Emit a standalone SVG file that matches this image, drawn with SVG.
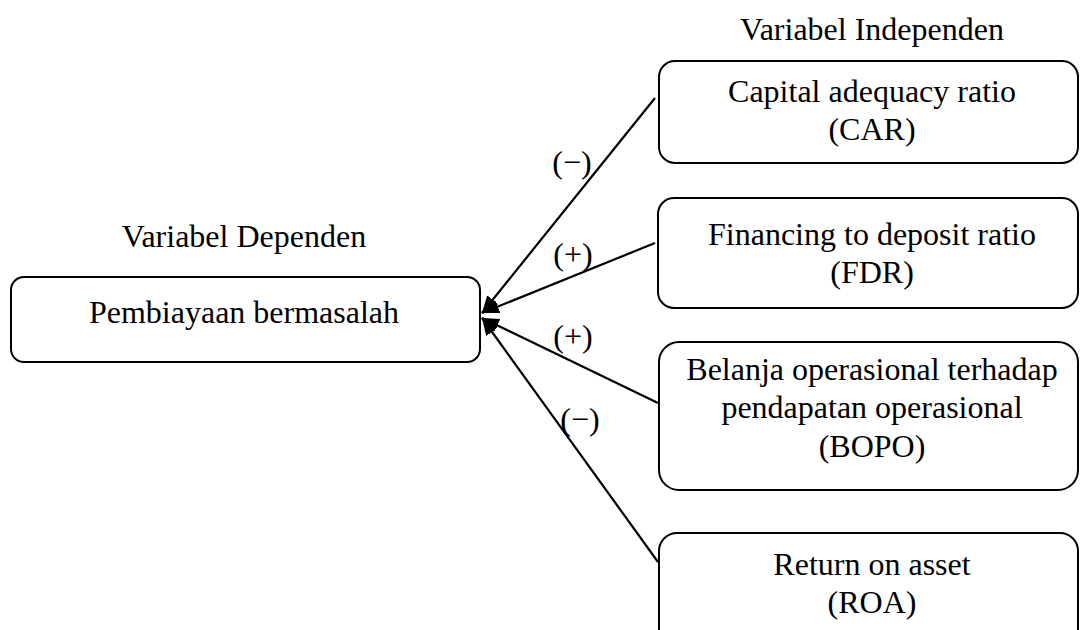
<svg xmlns="http://www.w3.org/2000/svg" width="1080" height="630" viewBox="0 0 1080 630">
  <defs>
    <style>
      .box { fill: #ffffff; stroke: #000000; stroke-width: 2; }
      .t { font-family: "Liberation Serif", "Times New Roman", serif; font-size: 32px; fill: #000000; text-anchor: middle; }
      .edge { stroke: #000000; stroke-width: 2.2; fill: none; marker-end: url(#arrow); }
    </style>
    <marker id="arrow" markerUnits="userSpaceOnUse" markerWidth="18" markerHeight="14" refX="17" refY="7" orient="auto">
      <path d="M0,0 L17,7 L0,14 Z" fill="#000000"/>
    </marker>
  </defs>
  <rect width="1080" height="630" fill="#ffffff"/>

  <text class="t" x="244" y="247">Variabel Dependen</text>
  <text class="t" x="872" y="40">Variabel Independen</text>

  <g id="connectors">
    <line class="edge" x1="655" y1="98" x2="482" y2="313"/>
    <line class="edge" x1="655" y1="243" x2="482" y2="313"/>
    <line class="edge" x1="658" y1="403" x2="482" y2="318"/>
    <line class="edge" x1="658" y1="562" x2="482" y2="318"/>
    <text class="t" x="572" y="173">(−)</text>
    <text class="t" x="573" y="265">(+)</text>
    <text class="t" x="573" y="347">(+)</text>
    <text class="t" x="580" y="430">(−)</text>
  </g>

  <g id="pembiayaan">
    <rect class="box" x="11" y="277" width="469" height="85" rx="13" ry="13"/>
    <text class="t" x="244" y="323">Pembiayaan bermasalah</text>
  </g>

  <g id="car">
    <rect class="box" x="659" y="61" width="419" height="102" rx="16" ry="16"/>
    <text class="t" x="872" y="102">Capital adequacy ratio</text>
    <text class="t" x="872" y="140">(CAR)</text>
  </g>

  <g id="fdr">
    <rect class="box" x="658" y="198" width="420" height="110" rx="16" ry="16"/>
    <text class="t" x="872" y="245">Financing to deposit ratio</text>
    <text class="t" x="872" y="283">(FDR)</text>
  </g>

  <g id="bopo">
    <rect class="box" x="659" y="342" width="419" height="148" rx="20" ry="20"/>
    <text class="t" x="872" y="380">Belanja operasional terhadap</text>
    <text class="t" x="872" y="418">pendapatan operasional</text>
    <text class="t" x="872" y="457">(BOPO)</text>
  </g>

  <g id="roa">
    <rect class="box" x="659" y="533" width="419" height="120" rx="18" ry="18"/>
    <text class="t" x="872" y="575">Return on asset</text>
    <text class="t" x="872" y="613">(ROA)</text>
  </g>
</svg>
